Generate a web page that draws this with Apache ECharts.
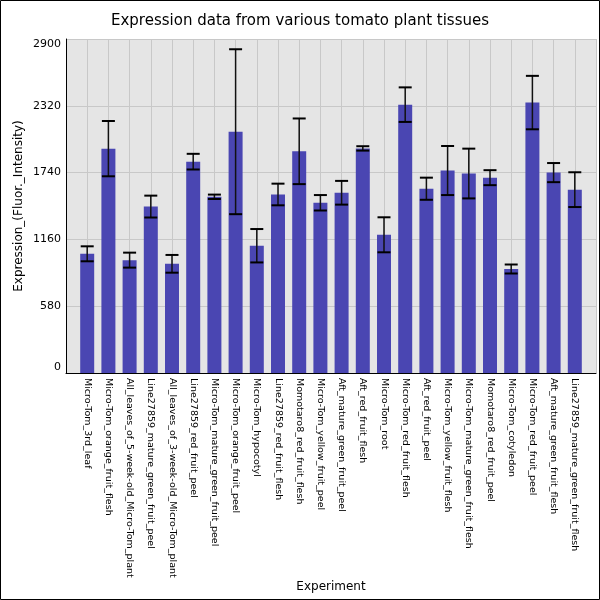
<!DOCTYPE html>
<html><head><meta charset="utf-8">
<script src="https://cdn.jsdelivr.net/npm/echarts@6/dist/echarts.min.js"></script>
<style>html,body{margin:0;padding:0;background:#fff}#c{width:600px;height:600px}</style>
</head><body><div id="c"></div>
<script>
const categories = ["Micro-Tom_3rd_leaf","Micro-Tom_orange_fruit_flesh","All_leaves_of_5-week-old_Micro-Tom_plant","Line27859_mature_green_fruit_peel","All_leaves_of_3-week-old_Micro-Tom_plant","Line27859_red_fruit_peel","Micro-Tom_mature_green_fruit_peel","Micro-Tom_orange_fruit_peel","Micro-Tom_hypocotyl","Line27859_red_fruit_flesh","Momotaro8_red_fruit_flesh","Micro-Tom_yellow_fruit_peel","Aft_mature_green_fruit_peel","Aft_red_fruit_flesh","Micro-Tom_root","Micro-Tom_red_fruit_flesh","Aft_red_fruit_peel","Micro-Tom_yellow_fruit_flesh","Micro-Tom_mature_green_fruit_flesh","Momotaro8_red_fruit_peel","Micro-Tom_cotyledon","Micro-Tom_red_fruit_peel","Aft_mature_green_fruit_flesh","Line27859_mature_green_fruit_flesh"];
const values = [1035,1948,980,1445,948,1835,1530,2095,1105,1550,1925,1478,1565,1950,1200,2330,1600,1758,1732,1696,903,2348,1740,1592];
const errors = [65,240,65,95,77,68,19,716,145,94,285,67,103,19,152,150,96,213,216,65,39,232,83,151];
const yTicks = [0,580,1160,1740,2320,2900];

const chart = echarts.init(document.getElementById('c'));
const barData = categories.map((c,i)=>[i, values[i]]);
const errData = categories.map((c,i)=>[i, values[i]-errors[i], values[i]+errors[i]]);
chart.setOption({
  animation:false,
  backgroundColor:'#fff',
  textStyle:{fontFamily:'DejaVu Sans'},
  title:{text:'Expression data from various tomato plant tissues',left:'center',top:9,
    textStyle:{fontFamily:'DejaVu Sans',fontSize:15,fontWeight:'normal',color:'#000'}},
  graphic:[{type:'rect',shape:{x:0.5,y:0.5,width:599,height:599},style:{fill:'none',stroke:'#000',lineWidth:1},z:100}],
  grid:{left:66,right:4,top:39,bottom:227,show:true,backgroundColor:'#e5e5e5',borderWidth:0,containLabel:false,outerBoundsMode:'none'},
  xAxis:{type:'value',min:-1,max:categories.length,interval:1,name:'Experiment',nameLocation:'middle',nameGap:208,
    nameMoveOverlap:false,
    nameTextStyle:{fontFamily:'DejaVu Sans',fontSize:12,color:'#000'},
    axisLine:{onZero:false,lineStyle:{color:'#000',width:1}},axisTick:{show:false},
    axisLabel:{rotate:-90,interval:0,fontSize:9.5,color:'#000',fontFamily:'DejaVu Sans',margin:5,
      showMinLabel:true,showMaxLabel:true,
      formatter:function(v){const i=Math.round(v);return (i>=0&&i<categories.length)?categories[i]:'';}},
    splitLine:{show:true,lineStyle:{color:'#c8c8c8',width:1}}},
  yAxis:{type:'value',min:yTicks[0],max:yTicks[yTicks.length-1],interval:580,
    name:'Expression_(Fluor._Intensity)',nameLocation:'middle',nameGap:41,nameMoveOverlap:false,
    nameTextStyle:{fontFamily:'DejaVu Sans',fontSize:12,color:'#000'},
    axisLine:{show:true,onZero:false,lineStyle:{color:'#000',width:1}},axisTick:{show:false},
    axisLabel:{fontSize:11,color:'#000',fontFamily:'DejaVu Sans',margin:5,
      formatter:function(v){return String(v);},
      verticalAlignMinLabel:'bottom',verticalAlignMaxLabel:'top'},
    splitLine:{show:true,lineStyle:{color:'#c8c8c8',width:1}}},
  series:[
    {type:'bar',z:2,data:barData,barWidth:14,itemStyle:{color:'#4a46b2'}},
    {type:'custom',z:3,data:errData,encode:{x:0,y:[1,2]},
      renderItem:function(params,api){
        const i=api.value(0);
        const lo=api.coord([i,api.value(1)]);
        const hi=api.coord([i,api.value(2)]);
        const hw=6.5;
        return {type:'group',children:[
          {type:'line',shape:{x1:lo[0],y1:lo[1],x2:hi[0],y2:hi[1]},style:{stroke:'#111',lineWidth:1.5}},
          {type:'line',shape:{x1:lo[0]-hw,y1:lo[1],x2:lo[0]+hw,y2:lo[1]},style:{stroke:'#000',lineWidth:2}},
          {type:'line',shape:{x1:hi[0]-hw,y1:hi[1],x2:hi[0]+hw,y2:hi[1]},style:{stroke:'#000',lineWidth:2}}
        ]};
      }}
  ]
});
</script></body></html>
